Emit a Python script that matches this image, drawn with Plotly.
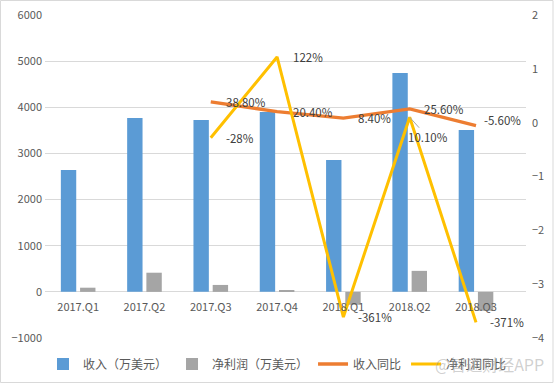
import plotly.graph_objects as go

categories = ["2017.Q1", "2017.Q2", "2017.Q3", "2017.Q4", "2018.Q1", "2018.Q2", "2018.Q3"]
revenue = [2640, 3770, 3725, 3900, 2860, 4745, 3510]
net_profit = [90, 415, 150, 25, -280, 455, -410]
revenue_yoy = [None, None, 0.388, 0.204, 0.084, 0.256, -0.056]
profit_yoy = [None, None, -0.28, 1.22, -3.61, 0.101, -3.71]
revenue_yoy_labels = [None, None, "38.80%", "20.40%", "8.40%", "25.60%", "-5.60%"]
profit_yoy_labels = [None, None, "-28%", "122%", "-361%", "10.10%", "-371%"]

FONT = "Noto Sans CJK SC, Noto Sans, sans-serif"
TXT = "#595959"

fig = go.Figure()
fig.add_trace(go.Bar(x=categories, y=revenue, name="收入（万美元）",
                     marker=dict(color="#5B9BD5", line=dict(width=0)), yaxis="y"))
fig.add_trace(go.Bar(x=categories, y=net_profit, name="净利润（万美元）",
                     marker=dict(color="#A5A5A5", line=dict(width=0)), yaxis="y"))
fig.add_trace(go.Scatter(x=categories, y=revenue_yoy, name="收入同比", mode="lines",
                         line=dict(color="#ED7D31", width=3.3), yaxis="y2"))
fig.add_trace(go.Scatter(x=categories, y=profit_yoy, name="净利润同比", mode="lines",
                         line=dict(color="#FFC000", width=3), yaxis="y2"))

L, R, T, B = 45, 29, 15, 46
pw, ph = 555 - L - R, 384 - T - B

annotations = []
rev_shift = {2: (13, 0), 3: (14, 0), 4: (13, 0), 5: (12, 0), 6: (6, 6)}
for i, (v, t) in enumerate(zip(revenue_yoy, revenue_yoy_labels)):
    if v is None:
        continue
    xs, ys = rev_shift[i]
    annotations.append(dict(x=categories[i], y=v, xref="x", yref="y2", text=t,
                            showarrow=False, xanchor="left", yanchor="middle",
                            xshift=xs, yshift=ys,
                            font=dict(family=FONT, size=11.5, color="#404040")))
prof_shift = {2: (13, 0), 3: (14, 0), 4: (13, 0), 6: (12, 0)}
for i, (v, t) in enumerate(zip(profit_yoy, profit_yoy_labels)):
    if v is None:
        continue
    if i in prof_shift:
        xs, ys = prof_shift[i]
        annotations.append(dict(x=categories[i], y=v, xref="x", yref="y2", text=t,
                                showarrow=False, xanchor="left", yanchor="middle",
                                xshift=xs, yshift=ys,
                                font=dict(family=FONT, size=11.5, color="#404040")))
    else:
        annotations.append(dict(x=categories[i], y=v, xref="x", yref="y2", text=t,
                                showarrow=True, arrowhead=0, arrowwidth=1,
                                arrowcolor="#A6A6A6", ax=18, ay=20,
                                font=dict(family=FONT, size=11.5, color="#404040")))

annotations.append(dict(x=(546 - L) / pw, y=(384 - B - 364) / ph, xref="paper", yref="paper",
                        text="@智通财经APP", showarrow=False, xanchor="right",
                        yanchor="middle",
                        font=dict(family=FONT, size=16, color="rgba(150,150,150,0.45)")))

fig.update_layout(
    width=555, height=384,
    margin=dict(l=L, r=R, t=T, b=B, pad=0, autoexpand=False),
    paper_bgcolor="white", plot_bgcolor="white",
    font=dict(family=FONT, size=11, color=TXT),
    barmode="group", bargap=0.42, bargroupgap=0.2,
    xaxis=dict(type="category", anchor="free", position=1 / 7, showline=False,
               ticks="", showgrid=False, tickfont=dict(size=11, color=TXT),
               ticklabelstandoff=7, automargin=False),
    yaxis=dict(range=[-1000, 6000], dtick=1000, showgrid=True, gridcolor="#D9D9D9",
               gridwidth=1, zeroline=False, showline=False, ticks="",
               ticklabelstandoff=2,
               tickfont=dict(size=11, color=TXT), automargin=False),
    yaxis2=dict(range=[-4, 2], dtick=1, overlaying="y", side="right", showgrid=False,
                zeroline=False, showline=False, ticks="", automargin=False,
                ticklabelstandoff=5,
                tickfont=dict(size=11, color=TXT)),
    legend=dict(orientation="h", xref="container", yref="container",
                x=0.5, xanchor="center", y=1 - 364 / 384, yanchor="middle",
                font=dict(size=12, color=TXT), bgcolor="rgba(0,0,0,0)"),
    annotations=annotations,
    shapes=[dict(type="rect", xref="paper", yref="paper",
                 x0=-(L - 0.5) / pw, x1=1 + (R - 2) / pw,
                 y0=-(B - 1.5) / ph, y1=1 + (T - 0.5) / ph,
                 line=dict(color="#D9D9D9", width=1), layer="below")],
)

fig.write_html("out.html", config={"displayModeBar": False},
               post_script="document.body.style.margin='0';document.body.style.overflow='hidden';")
